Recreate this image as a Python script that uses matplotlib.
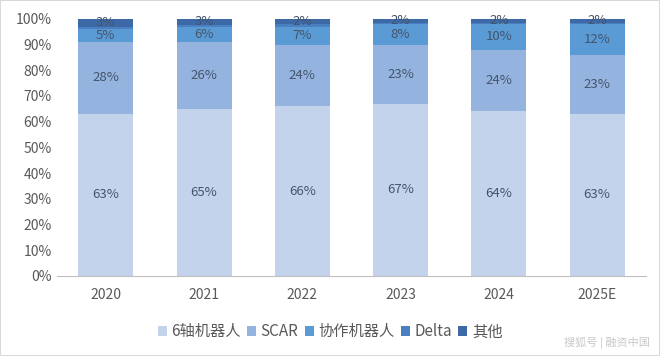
import matplotlib
matplotlib.use("Agg")
import matplotlib.pyplot as plt
import numpy as np

plt.rcParams['font.family'] = ['Noto Sans CJK SC', 'DejaVu Sans']

years = ["2020", "2021", "2022", "2023", "2024", "2025E"]
series_names = ["6轴机器人", "SCAR", "协作机器人", "Delta", "其他"]
six_axis = [63, 65, 66, 67, 64, 63]
scar = [28, 26, 24, 23, 24, 23]
cobot = [5, 6, 7, 8, 10, 12]
delta = [1, 0.5, 1, 0.5, 0.5, 0.5]
other = [3, 3, 2, 2, 2, 2]
# which series get a % label
show_label = [True, True, True, False, True]

colors = ["#C3D3EC", "#94B4DF", "#5B9BD5", "#4A80C2", "#3D6AA6"]

fig = plt.figure(figsize=(6.6, 3.56), dpi=100)
ax = fig.add_axes([0.086, 0.225, 0.893, 0.722])

x = np.arange(len(years))
bottom = np.zeros(len(years))
data = [six_axis, scar, cobot, delta, other]
for name, vals, col, lab in zip(series_names, data, colors, show_label):
    vals = np.asarray(vals, dtype=float)
    ax.bar(x, vals, 0.56, bottom=bottom, color=col, label=name, linewidth=0)
    if lab:
        for xi, b, v in zip(x, bottom, vals):
            ax.text(xi, b + v / 2, f"{int(v)}%", ha="center", va="center",
                    fontsize=9.5, color="#44546A")
    bottom += vals

ax.set_xlim(-0.5, len(years) - 0.5)
ax.set_ylim(0, 100)
ax.set_yticks(np.arange(0, 101, 10))
ax.set_yticklabels([f"{v}%" for v in range(0, 101, 10)])
ax.set_xticks(x)
ax.set_xticklabels(years)
ax.tick_params(axis="both", length=0, labelsize=10, labelcolor="#595959")
ax.tick_params(axis="x", pad=9)
for s in ["top", "right", "left"]:
    ax.spines[s].set_visible(False)
ax.spines["bottom"].set_color("#BFBFBF")

fig.legend(*ax.get_legend_handles_labels(), loc="center",
           bbox_to_anchor=(0.5, 0.068), ncol=5, frameon=False,
           fontsize=11, handlelength=0.6, handleheight=0.6, handletextpad=0.3,
           columnspacing=0.4, labelcolor="#595959")

fig.text(0.985, 0.02, "搜狐号 | 融资中国", ha="right", va="bottom", fontsize=8,
         color="#C8C8C8")
fig.patches.append(plt.Rectangle((0, 0), 1, 1, transform=fig.transFigure,
                                 fill=False, edgecolor="#D9D9D9", linewidth=1.5))

fig.savefig("out.png", dpi=100)
